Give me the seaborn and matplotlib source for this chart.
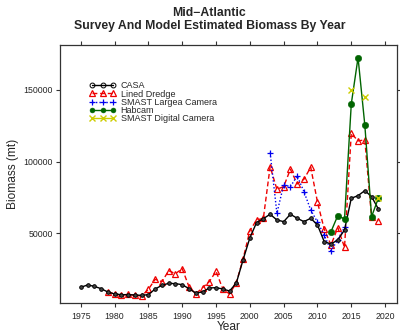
import numpy as np
import pandas as pd
import matplotlib
matplotlib.use("Agg")
import matplotlib.pyplot as plt
from matplotlib.lines import Line2D
import seaborn as sns

sns.set_theme(style="white")
plt.rcParams['font.family'] = ['Liberation Sans', 'DejaVu Sans']

# ---------------- data ----------------
casa_years = list(range(1975, 2020))
casa = [12340, 13950, 13020, 11390, 9070, 7670, 7210, 7210, 6970, 6740,
        7210, 11160, 13720, 15110, 14880, 14180, 11390, 8370, 9070, 11860,
        12090, 11160, 9760, 15300, 31500, 46800, 57500, 60200, 63250, 59270,
        58100, 63250, 60460, 58100, 60460, 55800, 44150, 42540, 45330, 52300,
        74400, 76230, 79720, 75530, 66950]

dredge_years = list(range(1979, 2020))
dredge = [9070, 7910, 6740, 7440, 6740, 6280, 10930, 17920, 16250, 23920,
          21830, 25320, 12760, 7670, 12090, 16250, 23500, 11160, 7670, 15560,
          32080, 51820, 59270, 60460, 96440, 80680, 82500, 94620, 84380, 87650,
          96020, 71800, 52790, 41840, 53900, 40220, 119700, 114370, 115070, 61000,
          58580]

largea_years = list(range(2003, 2015))
largea = [106200, 63950, 83680, 82500, 89960, 79010, 66250, 57800, 48810, 37870,
          45300, 54180]

habcam_years = list(range(2012, 2020))
habcam = [51130, 62280, 59970, 140170, 172460, 125520, 61580, 74400]

digital_years = [2015, 2017, 2019]
digital = [149930, 145260, 74400]

labels = ["CASA", "Lined Dredge", "SMAST Largea Camera", "Habcam",
          "SMAST Digital Camera"]
x_ticks = [1975, 1980, 1985, 1990, 1995, 2000, 2005, 2010, 2015, 2020]
y_ticks = [50000, 100000, 150000]

# ---------------- plot ----------------
fig = plt.figure(figsize=(4.0, 3.33), dpi=100)
ax = fig.add_axes([0.149, 0.0892, 0.843, 0.776])

c_casa, c_dr, c_la, c_hb, c_dg = "black", "#EE0000", "#0000EE", "#006400", "#CDCD00"

st_casa = dict(color=c_casa, linewidth=1.0, linestyle="-", marker="o",
               markersize=2.6, markerfacecolor="#444444",
               markeredgecolor=c_casa, markeredgewidth=0.7)
st_dr = dict(color=c_dr, linewidth=1.0, linestyle=(0, (3.5, 2)), marker="^",
             markersize=4.2, markerfacecolor="none", markeredgecolor=c_dr,
             markeredgewidth=0.9)
st_la = dict(color=c_la, linewidth=1.0, linestyle=(0, (1, 1.5)), marker="+",
             markersize=4.8, markeredgecolor=c_la, markeredgewidth=0.9)
st_hb = dict(color=c_hb, linewidth=1.0, linestyle="-", marker="o",
             markersize=4.6, markerfacecolor=c_hb, markeredgecolor=c_hb,
             markeredgewidth=0.4)
st_dg = dict(color=c_dg, linewidth=1.0, linestyle="-", marker="x",
             markersize=4.8, markeredgecolor=c_dg, markeredgewidth=1.0)

sns.lineplot(x=dredge_years, y=dredge, ax=ax, zorder=2, **st_dr)
sns.lineplot(x=largea_years, y=largea, ax=ax, zorder=2.5, **st_la)
sns.lineplot(x=casa_years, y=casa, ax=ax, zorder=3, **st_casa)
sns.lineplot(x=habcam_years, y=habcam, ax=ax, zorder=4, **st_hb)
dg_df = pd.DataFrame({"year": digital_years, "val": digital,
                      "u": list(range(len(digital)))})
sns.lineplot(data=dg_df, x="year", y="val", units="u", estimator=None,
             ax=ax, zorder=5, **st_dg)

ax.set_xlim(1971.87, 2021.73)
ax.set_ylim(1190, 181300)
ax.set_xticks(x_ticks)
ax.set_xticklabels([str(t) for t in x_ticks])
ax.set_yticks(y_ticks)
ax.set_yticklabels([str(t) for t in y_ticks])
ax.tick_params(axis="both", which="both", direction="out", length=3.0,
               width=0.8, color="#333333", labelsize=6.3, pad=2,
               top=True, right=True, bottom=True, left=True,
               labeltop=False, labelright=False)
ax.tick_params(axis="x", pad=3)
for s in ax.spines.values():
    s.set_visible(True)
    s.set_color("#333333")
    s.set_linewidth(0.9)
ax.grid(False)
ax.set_xlabel("")
ax.set_ylabel("")

fig.text(0.5725, 1 - 326.5 / 333, "Year", ha="center", va="center", fontsize=8.6)
fig.text(12.7 / 400, 1 - 174 / 333, "Biomass (mt)", ha="center", va="center",
         rotation=90, fontsize=8.6)
fig.text(209 / 400, 1 - 12.5 / 333, "Mid\u2212Atlantic", ha="center",
         va="center", fontsize=8.8, fontweight="bold")
fig.text(210 / 400, 1 - 25.8 / 333, "Survey And Model Estimated Biomass By Year",
         ha="center", va="center", fontsize=8.8, fontweight="bold")

handles = [Line2D([], [], **st_casa), Line2D([], [], **st_dr),
           Line2D([], [], **st_la), Line2D([], [], **st_hb),
           Line2D([], [], **st_dg)]
handles[0].set_markerfacecolor("none")
handles[0].set_markersize(3.5)
handles[3].set_markersize(3.5)
leg = ax.legend(handles, labels, loc="upper left",
                bbox_to_anchor=(89 / 400, 1 - 81.5 / 333),
                bbox_transform=fig.transFigure, frameon=False,
                fontsize=6.5, numpoints=3, handlelength=3.0,
                handletextpad=0.5, labelspacing=-0.1, borderpad=0,
                borderaxespad=0)

fig.savefig("out.png", dpi=100)
